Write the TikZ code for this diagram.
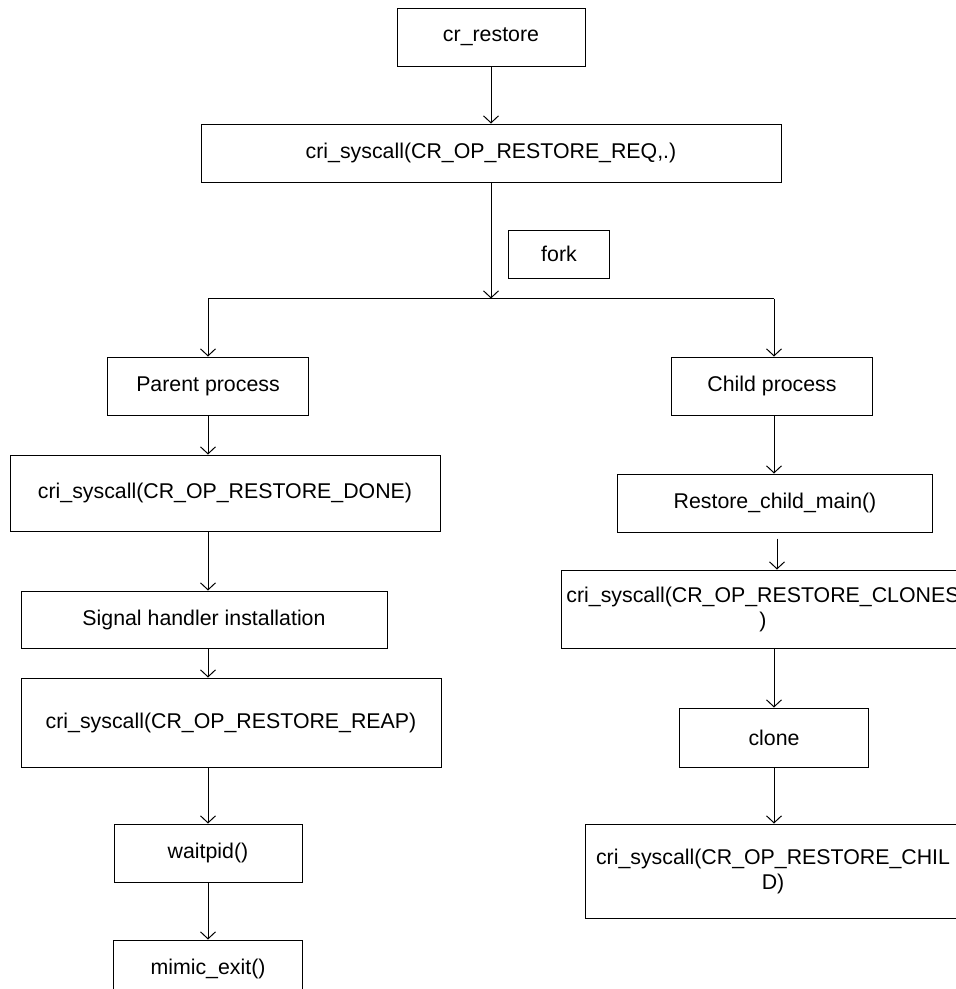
\documentclass[tikz,border=0pt]{standalone}
\usepackage{fontspec}
\setmainfont{Liberation Sans}
\usetikzlibrary{positioning}
\usetikzlibrary{arrows.meta}
\usetikzlibrary{calc}

\begin{document}
\begin{tikzpicture}[
    x=1pt, y=-1pt,
    block/.style={align=center, rectangle, draw=black, line width=1pt, fill=white, inner sep=0pt, font=\fontsize{21.33}{25}\selectfont},
    link/.style={draw=black, line width=1pt, -{Straight Barb[length=7pt,width=15pt]}}
]
    \useasboundingbox (0,0) rectangle (956,989);
    \clip (0,0) rectangle (956,989);

    \node[block, minimum width=188pt, minimum height=58pt] (I1) at (491,37) {cr\_restore};
    \node[block, minimum width=580pt, minimum height=58pt] (I2) [below=57pt of I1] {cri\_syscall(CR\_OP\_RESTORE\_REQ,.)};
    \node[block, minimum width=101pt, minimum height=48pt] (F1) [below right=47pt and 17pt of I2.south] {fork};

    \coordinate[below=116pt of I2.south] (H1);
    \coordinate[left=283pt of H1] (H2);
    \coordinate[right=283pt of H1] (H3);

    % parent side
    \node[block, minimum width=201pt, minimum height=58pt] (L1) [below=58pt of H2] {Parent process};
    \node[block, minimum width=430pt, minimum height=76pt] (L2) [below=39pt of L1, xshift=17pt] {cri\_syscall(CR\_OP\_RESTORE\_DONE)};
    \node[block, minimum width=366pt, minimum height=57pt] (L3) [below=59pt of L2, xshift=-21pt] {Signal handler installation};
    \node[block, minimum width=420pt, minimum height=89pt] (L4) [below=29pt of L3, xshift=27pt] {cri\_syscall(CR\_OP\_RESTORE\_REAP)};
    \node[block, minimum width=188pt, minimum height=58pt] (L5) [below=56pt of L4, xshift=-23pt] {waitpid()};
    \node[block, minimum width=189pt, minimum height=58pt] (L6) [below=57pt of L5] {mimic\_exit()};

    % child side
    \node[block, minimum width=201pt, minimum height=58pt] (R1) [below=58pt of H3, xshift=-2pt] {Child process};
    \node[block, minimum width=315pt, minimum height=58pt] (R2) [below=58pt of R1, xshift=3pt] {Restore\_child\_main()};
    \node[block, minimum width=404pt, minimum height=78pt] (R3) [below=37pt of R2, xshift=-12pt] {cri\_syscall(CR\_OP\_RESTORE\_CLONES\\)};
    \node[block, minimum width=189pt, minimum height=59pt] (R4) [below=59pt of R3, xshift=11pt] {clone};
    \node[block, minimum width=376pt, minimum height=94pt] (R5) [below=56pt of R4, xshift=-1pt] {cri\_syscall(CR\_OP\_RESTORE\_CHIL\\D)};

    \draw[link] (I1) -- (I2);
    \draw[link] (I2) -- (H1);
    \draw[draw=black, line width=1pt] (H2) -- (H3);

    \draw[link] (H2) -- (L1);
    \draw[link] (L1) -- (L2.north -| L1);
    \draw[link] (L2.south -| L1) -- (L3.north -| L1);
    \draw[link] (L3.south -| L1) -- (L4.north -| L1);
    \draw[link] (L4.south -| L1) -- (L5);
    \draw[link] (L5) -- (L6);

    \draw[link] (H3) -- (R1.north -| H3);
    \draw[link] (R1.south -| H3) -- (R2.north -| H3);
    \draw[link] ($(R2.south -| H3)+(3,6)$) -- ($(R3.north -| H3)+(3,0)$);
    \draw[link] (R3.south -| H3) -- (R4.north -| H3);
    \draw[link] (R4.south -| H3) -- (R5.north -| H3);

\end{tikzpicture}
\end{document}
